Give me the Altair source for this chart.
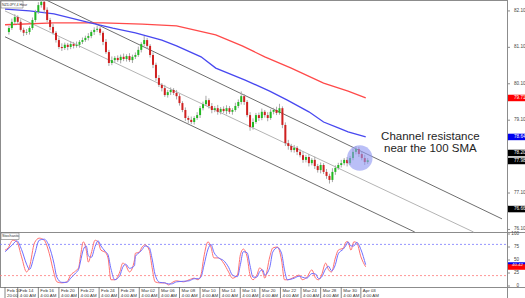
import altair as alt
import pandas as pd

# ---------------- data ----------------
closes = [
    81.63, 81.80, 81.93, 81.80, 81.58, 81.50, 81.52, 81.63, 81.85, 82.07,
    82.26, 82.35, 82.13, 81.85, 81.66, 81.50, 81.30, 81.11, 81.08, 81.17,
    81.11, 81.19, 81.14, 81.17, 81.25, 81.30, 81.36, 81.41, 81.52, 81.58,
    81.61, 81.50, 81.25, 80.97, 80.67, 80.75, 80.81, 80.75, 80.84, 80.78,
    80.86, 80.75, 80.84, 80.89, 81.03, 81.19, 81.30, 81.14, 80.89, 80.62,
    80.26, 80.07, 79.98, 79.79, 79.87, 79.93, 79.85, 79.76, 79.57, 79.38,
    79.16, 79.11, 79.05, 79.16, 79.24, 79.43, 79.54, 79.65, 79.49, 79.38,
    79.43, 79.33, 79.41, 79.35, 79.43, 79.33, 79.38, 79.49, 79.60, 79.76,
    79.60, 79.24, 78.91, 79.05, 79.24, 79.16, 79.33, 79.24, 79.16, 79.33,
    79.38, 79.30, 79.43, 78.97, 78.47, 78.39, 78.28, 78.34, 78.23, 78.14,
    78.01, 78.09, 77.92, 78.01, 77.84, 77.73, 77.87, 77.68, 77.57, 77.46,
    77.68, 77.79, 77.87, 77.92, 78.01, 77.92, 78.06, 78.23, 78.31, 78.17,
    78.06, 77.95, 78.00,
]
first_open = 81.52
# wick extensions above / below the body, in hundredths of a yen
wick_hi = [
    6, 9, 8, 5, 7, 6, 8, 5, 7, 6,
    8, 6, 5, 7, 6, 9, 5, 7, 10, 6,
    5, 8, 6, 9, 5, 7, 6, 8, 5, 7,
    9, 6, 5, 8, 6, 10, 5, 7, 6, 9,
    5, 8, 6, 7, 9, 5, 11, 6, 5, 7,
    6, 8, 5, 9, 6, 7, 5, 8, 6, 5,
    7, 6, 9, 5, 8, 6, 7, 12, 5, 8,
    6, 9, 5, 7, 8, 6, 5, 9, 7, 13,
    6, 5, 8, 10, 6, 7, 9, 5, 8, 7,
    6, 9, 12, 5, 7, 9, 6, 8, 5, 7,
    10, 6, 8, 5, 9, 6, 7, 5, 8, 6,
    10, 7, 6, 9, 5, 8, 6, 9, 8, 6,
    7, 9, 6,
]
wick_lo = [
    7, 5, 6, 8, 5, 9, 6, 7, 5, 6,
    5, 7, 8, 6, 9, 5, 7, 6, 8, 5,
    9, 6, 7, 5, 8, 6, 5, 7, 6, 8,
    6, 7, 9, 5, 8, 6, 7, 5, 9, 6,
    7, 5, 8, 6, 5, 7, 6, 8, 7, 9,
    8, 6, 9, 5, 7, 8, 6, 9, 7, 6,
    8, 10, 6, 7, 5, 8, 6, 5, 7, 9,
    6, 8, 7, 5, 9, 6, 8, 5, 6, 7,
    8, 6, 10, 7, 5, 8, 6, 7, 9, 5,
    7, 6, 5, 9, 8, 10, 6, 7, 9, 6,
    8, 7, 9, 6, 8, 7, 9, 6, 8, 10,
    6, 8, 5, 7, 6, 9, 5, 6, 7, 8,
    6, 8, 5,
]

sma100_bar = [-1.33, 7, 15.33, 26.33, 35.33, 43, 52, 57, 65.33, 70.33, 80.33, 88.67, 94.67, 102, 107, 112, 115.33, 121.33]
sma100_val = [82.15, 82.10, 82.02, 81.80, 81.63, 81.50, 81.30, 81.14, 80.84, 80.53, 80.20, 79.90, 79.65, 79.33, 79.05, 78.89, 78.78, 78.64]
sma200_bar = [-1.33, 15.33, 32, 45.33, 57, 70.33, 79.33, 87, 96, 107, 115.33, 121.33]
sma200_val = [81.72, 81.77, 81.77, 81.74, 81.69, 81.44, 81.14, 80.84, 80.53, 80.12, 79.90, 79.71]

chan_upper_bar = [12.67, 167.67]
chan_upper_val = [82.40, 76.39]
chan_mid_bar = [-1.33, 158.0]
chan_mid_val = [82.10, 76.03]
chan_lower_bar = [-1.33, 138.0]
chan_lower_val = [81.39, 76.03]

stoch_bar = [
    -1.3, -0.3, 1.3, 2.7, 4.3, 6.0, 7.0, 8.7, 10.3, 12.0,
    13.7, 15.3, 16.3, 18.0, 19.7, 21.0, 22.7, 23.7, 24.3, 25.3,
    26.3, 27.0, 28.0, 29.3, 30.3, 31.3, 32.7, 33.7, 34.7, 36.0,
    37.7, 38.7, 39.7, 41.0, 42.7, 43.0, 44.3, 45.3, 46.3, 47.7,
    48.7, 49.7, 51.3, 53.0, 54.3, 55.3, 57.0, 59.3, 61.3, 63.0,
    64.3, 65.3, 66.3, 67.7, 68.7, 69.7, 71.3, 73.0, 74.7, 76.0,
    77.7, 78.7, 79.7, 81.0, 82.0, 83.0, 84.3, 85.3, 86.3, 87.0,
    88.7, 89.7, 91.3, 92.7, 93.7, 94.7, 97.0, 98.7, 99.7, 101.3,
    103.0, 104.3, 105.3, 106.3, 107.7, 108.7, 109.7, 111.0, 112.0, 113.7,
    114.7, 115.3, 116.3, 117.3, 118.3, 119.7, 121.3,
]
stoch_red = [
    69, 73, 88, 85, 56, 27, 37, 83, 92, 88,
    63, 25, 8, 6, 8, 21, 29, 35, 56, 85,
    69, 46, 63, 88, 85, 69, 65, 54, 12, 12,
    27, 44, 40, 27, 50, 63, 65, 75, 79, 69,
    35, 8, 6, 6, 2, 6, 10, 8, 12, 15,
    12, 21, 56, 85, 75, 54, 54, 44, 27, 15,
    21, 60, 71, 56, 21, 12, 21, 35, 27, 15,
    56, 73, 75, 50, 12, 12, 17, 21, 12, 17,
    31, 15, 12, 21, 44, 31, 27, 54, 69, 73,
    85, 85, 69, 85, 83, 56, 37,
]
stoch_blue = [
    66, 71, 80, 87, 70, 42, 32, 60, 88, 90,
    76, 44, 17, 7, 7, 15, 25, 32, 46, 70,
    77, 58, 55, 76, 87, 77, 67, 60, 33, 12,
    20, 36, 42, 34, 39, 57, 64, 70, 77, 74,
    52, 22, 7, 6, 4, 4, 8, 9, 10, 14,
    14, 17, 39, 71, 80, 65, 54, 49, 36, 21,
    18, 41, 66, 64, 39, 17, 17, 28, 31, 21,
    36, 65, 74, 63, 31, 12, 15, 19, 17, 15,
    24, 23, 14, 17, 33, 38, 29, 41, 62, 71,
    79, 85, 77, 77, 84, 70, 41,
]
stoch_levels = [80, 20]
stoch_level_colors = ["#7a7aff", "#ff7a7a"]

price_ticks = [82.10, 81.10, 80.10, 79.10, 77.10, 76.10]
price_tick_labels = ["82.10", "81.10", "80.10", "79.10", "77.10", "76.10"]
marker_vals = [79.71, 78.64, 78.20, 77.98, 76.66]
marker_labels = ["79.71", "78.64", "78.20", "77.98", "76.66"]
marker_colors = ["#ff0000", "#0000ee", "#000000", "#000000", "#000000"]

stoch_ticks = [100, 75, 50, 25, 0]
stoch_tick_labels = ["100", "75", "50", "25", "0"]
stoch_marker_vals = [40.4, 36.5]
stoch_marker_labels = ["40.42", ""]
stoch_marker_colors = ["#0000ee", "#ff0000"]

date_bar = [-1.33, 3, 10, 17, 23.67, 30.67, 37.33, 44.33, 51, 58, 65, 71.67, 78.67,
            85.33, 92.33, 99.33, 106, 113, 119.67]
date_top = ["Feb 10", "Feb 14", "Feb 16", "Feb 20", "Feb 22", "Feb 24", "Feb 28", "Mar 02",
            "Mar 06", "Mar 08", "Mar 10", "Mar 14", "Mar 16", "Mar 20", "Mar 22", "Mar 24",
            "Mar 28", "Mar 30", "Apr 03"]
date_bottom = ["20:00"] + ["4:00 AM"] * 18

highlight_bar = [119.3]
highlight_val = [78.06]
note_bar = [143.3]
note_val = [78.64]
note_text = ["Channel resistance\nnear the 100 SMA"]

# ---------------- tables ----------------
opens = [first_open] + closes[:-1]
candles = pd.DataFrame({
    "bar": list(range(len(closes))),
    "open": opens,
    "close": closes,
    "wh": wick_hi,
    "wl": wick_lo,
})
candles["high"] = candles[["open", "close"]].max(axis=1) + candles["wh"] / 100
candles["low"] = candles[["open", "close"]].min(axis=1) - candles["wl"] / 100

PLOT_R = 507
xs = alt.Scale(domain=[-1.333, 167.667], range=[0, PLOT_R], nice=False, zero=False)
ps = alt.Scale(domain=[76.03, 82.40], range=[232, 0], nice=False, zero=False)
ss = alt.Scale(domain=[0, 100], range=[286, 234], nice=False, zero=False)

X = lambda f: alt.X(f, type="quantitative", scale=xs, axis=None)
YP = lambda f: alt.Y(f, type="quantitative", scale=ps, axis=None)
YP2 = lambda f: alt.Y2(f)
YS = lambda f: alt.Y(f, type="quantitative", scale=ss, axis=None)
FONT = "Liberation Sans"

one = pd.DataFrame({"a": [0]})
layers = []

# frame lines
def hline(y, x0, x1, color="#8c8c8c"):
    return alt.Chart(one).mark_rule(color=color, strokeWidth=1).encode(
        x=alt.value(x0), x2=alt.value(x1), y=alt.value(y))

def vline(x, y0, y1, color="#8c8c8c"):
    return alt.Chart(one).mark_rule(color=color, strokeWidth=1).encode(
        x=alt.value(x), x2=alt.value(x), y=alt.value(y0), y2=alt.value(y1))

layers += [hline(0.5, 0, PLOT_R), hline(232.5, 0, 525), hline(287.5, 0, 525),
           vline(PLOT_R + 0.5, 0, 298), vline(0.5, 0, 287)]

# channel
def seg(bars, vals, color, width):
    d = pd.DataFrame({"bar": bars, "v": vals})
    return alt.Chart(d).mark_line(color=color, strokeWidth=width, clip=True).encode(
        x=X("bar"), y=YP("v"))

layers += [seg(chan_mid_bar, chan_mid_val, "#b4b4b4", 1),
           seg(chan_upper_bar, chan_upper_val, "#6e6e6e", 1),
           seg(chan_lower_bar, chan_lower_val, "#6e6e6e", 1)]

# moving averages
layers += [seg(sma200_bar, sma200_val, "#ff4a4a", 1.3),
           seg(sma100_bar, sma100_val, "#4848f0", 1.3)]

# candles
up_color = "#22b822"
dn_color = "#d02020"
wicks = alt.Chart(candles).mark_rule(color="#a8a8a8", strokeWidth=1).encode(
    x=X("bar"), y=YP("low"), y2=YP2("high"))
bodies = alt.Chart(candles).mark_bar(size=2).encode(
    x=X("bar"), y=YP("open"), y2=YP2("close"),
    color=alt.condition("datum.close >= datum.open", alt.value(up_color), alt.value(dn_color)))
layers += [wicks, bodies]

# highlight circle + note
hl = pd.DataFrame({"bar": highlight_bar, "v": highlight_val})
layers.append(alt.Chart(hl).mark_point(shape="circle", filled=True, size=650,
                                       color="#8f98f2", opacity=0.62).encode(x=X("bar"), y=YP("v")))
nt = pd.DataFrame({"bar": note_bar, "v": note_val, "t": note_text})
layers.append(alt.Chart(nt).mark_text(font=FONT, fontSize=11.5, lineHeight=12.5, lineBreak="\n",
                                      align="center", baseline="middle", color="#1e1e1e").encode(
    x=X("bar"), y=YP("v"), text="t:N"))

# top-left label
layers.append(alt.Chart(one).mark_rect(fill="white", stroke="#777", strokeWidth=0.6).encode(
    x=alt.value(1), x2=alt.value(23), y=alt.value(1), y2=alt.value(8)))
layers.append(alt.Chart(pd.DataFrame({"t": ["NZDJPY,4 Hour"]})).mark_text(
    font=FONT, fontSize=3.6, align="left", baseline="middle", color="#333").encode(
    x=alt.value(2), y=alt.value(4.6), text="t:N"))

# right price axis
pt = pd.DataFrame({"v": price_ticks, "t": price_tick_labels})
layers.append(alt.Chart(pt).mark_rule(color="#8c8c8c").encode(
    x=alt.value(PLOT_R), x2=alt.value(PLOT_R + 3), y=YP("v")))
layers.append(alt.Chart(pt).mark_text(font=FONT, fontSize=4.6, align="left", baseline="middle",
                                      color="#444").encode(x=alt.value(514), y=YP("v"), text="t:N"))
mk = pd.DataFrame({"v": marker_vals, "t": marker_labels, "c": marker_colors})
layers.append(alt.Chart(mk).mark_rule(strokeWidth=6.5).encode(
    x=alt.value(PLOT_R + 1), x2=alt.value(525), y=YP("v"),
    color=alt.Color("c:N", scale=None)))
layers.append(alt.Chart(mk).mark_text(font=FONT, fontSize=4.6, align="left", baseline="middle",
                                      color="white").encode(x=alt.value(514), y=YP("v"), text="t:N"))

# stochastic panel
layers.append(alt.Chart(pd.DataFrame({"t": ["Stochastic"]})).mark_text(
    font=FONT, fontSize=3.8, align="left", baseline="middle", color="#333").encode(
    x=alt.value(2), y=alt.value(236.2), text="t:N"))
layers.append(alt.Chart(one).mark_rect(fill=None, stroke="#777", strokeWidth=0.6).encode(
    x=alt.value(1), x2=alt.value(19), y=alt.value(233), y2=alt.value(239.5)))
lv = pd.DataFrame({"v": stoch_levels, "c": stoch_level_colors})
layers.append(alt.Chart(lv).mark_rule(strokeWidth=0.8, strokeDash=[2, 2]).encode(
    x=alt.value(0), x2=alt.value(PLOT_R), y=YS("v"), color=alt.Color("c:N", scale=None)))
st = pd.DataFrame({"bar": stoch_bar, "r": stoch_red, "b": stoch_blue})
layers.append(alt.Chart(st).mark_line(color="#ff7070", strokeWidth=1, interpolate="monotone").encode(
    x=X("bar"), y=YS("r")))
layers.append(alt.Chart(st).mark_line(color="#6f6fff", strokeWidth=1, interpolate="monotone").encode(
    x=X("bar"), y=YS("b")))
stt = pd.DataFrame({"v": stoch_ticks, "t": stoch_tick_labels})
layers.append(alt.Chart(stt).mark_rule(color="#8c8c8c").encode(
    x=alt.value(PLOT_R), x2=alt.value(PLOT_R + 3), y=YS("v")))
layers.append(alt.Chart(stt).mark_text(font=FONT, fontSize=4.6, align="right", baseline="middle",
                                      color="#444").encode(x=alt.value(519), y=YS("v"), text="t:N"))
smk = pd.DataFrame({"v": stoch_marker_vals, "t": stoch_marker_labels, "c": stoch_marker_colors})
layers.append(alt.Chart(smk).mark_rule(strokeWidth=5.5).encode(
    x=alt.value(PLOT_R + 1), x2=alt.value(525), y=YS("v"), color=alt.Color("c:N", scale=None)))
layers.append(alt.Chart(smk).mark_text(font=FONT, fontSize=4.4, align="left", baseline="middle",
                                       color="white").encode(x=alt.value(512), y=YS("v"), text="t:N"))

# date axis
dd = pd.DataFrame({"bar": date_bar, "top": date_top, "bot": date_bottom})
layers.append(alt.Chart(dd).mark_rule(color="#666", strokeWidth=0.8).encode(
    x=X("bar"), y=alt.value(287), y2=alt.value(298)))
layers.append(alt.Chart(dd).mark_text(font=FONT, fontSize=4.4, align="left", baseline="middle",
                                      dx=2, color="#333").encode(x=X("bar"), y=alt.value(290.5), text="top:N"))
layers.append(alt.Chart(dd).mark_text(font=FONT, fontSize=4.4, align="left", baseline="middle",
                                      dx=2, color="#333").encode(x=X("bar"), y=alt.value(295.5), text="bot:N"))

chart = alt.layer(*layers).properties(
    width=525, height=298, padding=0, autosize="none", background="white"
).resolve_scale(y="independent", color="independent").configure_view(stroke=None)

chart.save("out.html", embed_options={"renderer": "svg", "actions": False})
